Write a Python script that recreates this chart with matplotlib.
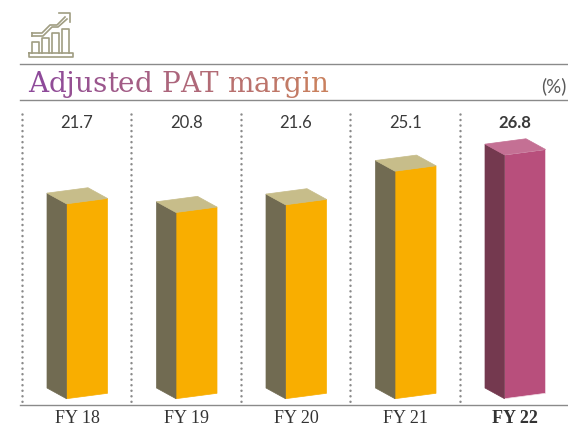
import matplotlib
matplotlib.use('Agg')
import matplotlib.pyplot as plt
from matplotlib.colors import to_rgb

years = ['FY 18', 'FY 19', 'FY 20', 'FY 21', 'FY 22']
margin = [21.7, 20.8, 21.6, 25.1, 26.8]
title = 'Adjusted PAT margin'

W, H = 568, 426
XSTEP = 109.5   # px per category
YSTEP = 9.6     # px per percentage point
BASE = 1.4      # the original bars don't start at zero
X0, Y0 = 66.5, 398.7

normal = ('#F9AE00', '#716B52', '#C7BD8A')
last = ('#B84F7C', '#74394F', '#C47094')

fig = plt.figure(figsize=(W / 100, H / 100), dpi=100)

# bars live in data units
ax = fig.add_axes([0, 0, 1, 1])
ax.set_xlim(-X0 / XSTEP, (W - X0) / XSTEP)
ax.set_ylim(BASE - (H - Y0) / YSTEP, BASE + Y0 / YSTEP)
ax.axis('off')

# everything else in pixel coords
ov = fig.add_axes([0, 0, 1, 1])
ov.set_xlim(0, W)
ov.set_ylim(H, 0)
ov.axis('off')
ov.patch.set_alpha(0)

# depth of the fake 3d box
lx, ly = -19.5 / XSTEP, 10.7 / YSTEP
rx, ry = 41 / XSTEP, 5.4 / YSTEP

for i, v in enumerate(margin):
    front, side, top = last if i == 4 else normal
    b = BASE
    ax.fill([i, i + rx, i + rx, i], [b, b + ry, v + ry, v], color=front, lw=0.5, ec='#f3dfe8' if i == 4 else front)
    ax.fill([i, i + lx, i + lx, i], [b, b + ly, v + ly, v], color=side, lw=0.5, ec=side)
    ax.fill([i, i + lx, i + lx + rx, i + rx], [v, v + ly, v + ly + ry, v + ry], color=top, lw=0.5, ec=top)

    cx = X0 + XSTEP * i + 10.5
    weight = 'bold' if i == 4 else 'normal'
    ov.text(cx, 122.5, f'{v:.1f}', ha='center', va='center', fontsize=12, family='Lato',
            color='#3a3a3a', fontweight=weight)
    ov.text(cx, 418.5, years[i], ha='center', va='center', fontsize=13, family='Liberation Serif',
            color='#333333', fontweight=weight)

# dotted separators
for x in [21.5, 131, 240.5, 350, 460]:
    ov.plot([x, x], [114, 402], color='#8a8a8a', lw=1.8, ls=(0, (0.01, 2.2)), dash_capstyle='round')

# rules
for y in [64, 100, 404.5]:
    ov.plot([20, W], [y, y], color='#8a8a8a', lw=1.0)

ov.text(567, 86, '(%)', ha='right', va='center', fontsize=13.5, family='Lato', color='#5a5a5a')

# title, one letter at a time for the colour fade
c1, c2 = to_rgb('#8E4A9A'), to_rgb('#C9805E')
renderer = fig.canvas.get_renderer()
tsize = 20.1
probe = ov.text(0, 0, '|', fontsize=tsize, family='DejaVu Serif')
bar_w = probe.get_window_extent(renderer).width
pos = 28
for k, ch in enumerate(title):
    t = k / (len(title) - 1)
    col = [a + (b - a) * t for a, b in zip(c1, c2)]
    ov.text(pos, 92, ch, fontsize=tsize, family='DejaVu Serif', color=col, va='baseline')
    probe.set_text(ch + '|')
    pos += probe.get_window_extent(renderer).width - bar_w
probe.remove()

# icon
ic = '#A09D82'
ov.plot([29, 73, 73, 29, 29], [53, 53, 56.5, 56.5, 53], color=ic, lw=1.2)
for x1, x2, ytop in [(32, 39, 42), (42, 49, 38), (52, 59, 33), (62, 69, 29)]:
    ov.plot([x1, x1, x2, x2], [53, ytop, ytop, 53], color=ic, lw=1.2)
ov.plot([32, 42, 50, 57, 65], [33, 33, 25, 25, 17], color=ic, lw=1.2)
ov.plot([32, 43, 52, 58, 67], [36, 36, 27, 27, 19], color=ic, lw=1.2)
ov.plot([59, 70, 70], [12.5, 12.5, 22], color=ic, lw=1.2)
ov.plot([32, 32], [33, 36], color=ic, lw=1.2)

fig.savefig('out.png', dpi=100)
